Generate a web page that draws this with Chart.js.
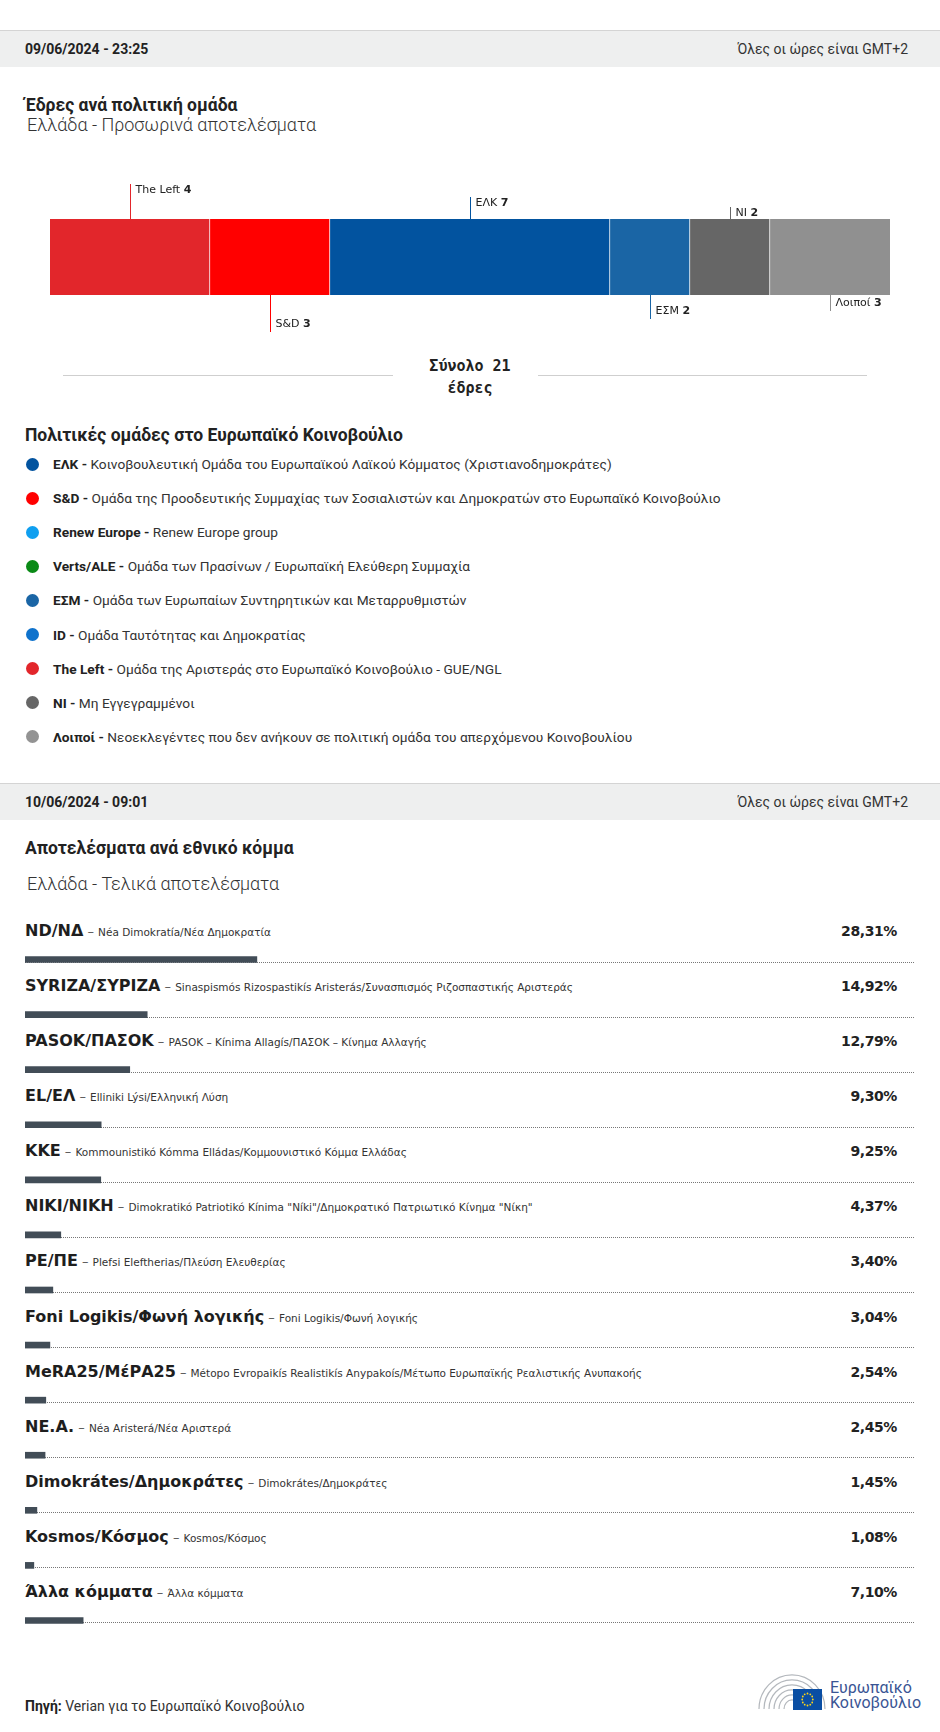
<!DOCTYPE html>
<html>
<head>
<meta charset="UTF-8">
<title>Ευρωεκλογές 2024 - Ελλάδα</title>
<script src="https://cdn.jsdelivr.net/npm/chart.js"></script>
<style>
  body { margin:0; background:#fff; font-family:Roboto, "Noto Sans", sans-serif; color:#222; }
  #page { position:relative; width:940px; height:1732px; overflow:hidden; }
  .abs { position:absolute; white-space:nowrap; }
  .band { position:absolute; left:0; width:940px; height:36px; background:#eeefef; border-top:1px solid #d4d4d4; }
  .band .date { position:absolute; left:25px; top:0; line-height:36px; font-weight:bold; font-size:14px; }
  .band .tz { position:absolute; right:32px; top:0; line-height:36px; font-size:14px; color:#333; }
  .title { font-weight:bold; font-size:17.5px; }
  .subtitle { font-size:18px; font-weight:300; color:#333; }
  .leg { font-size:13.7px; height:20px; line-height:20px; color:#333; }
  .leg b { color:#222; }
  .dot { position:absolute; width:13px; height:13px; border-radius:50%; }
  .total { font-family:"DejaVu Sans Mono", monospace; font-weight:bold; font-size:15px; text-align:center; width:200px; line-height:22px; }
  .rule { position:absolute; height:0; border-top:1.5px solid #cfcfcf; }
  .pname { font-family:"DejaVu Sans", sans-serif; height:22px; line-height:22px; }
  .pname b { font-size:16px; color:#1e1e1e; }
  .pname .dash { font-size:13px; color:#555; }
  .pname .desc { font-size:10.5px; color:#333; }
  .pval { font-family:"DejaVu Sans", sans-serif; font-weight:bold; font-size:14px; letter-spacing:-0.4px; height:22px; line-height:22px; text-align:right; width:120px; }
</style>
</head>
<body>
<div id="page">
  <div class="band" style="top:30px;"><span class="date">09/06/2024 - 23:25</span><span class="tz">Όλες οι ώρες είναι GMT+2</span></div>
  <div class="abs title" style="left:25px; top:95px;">Έδρες ανά πολιτική ομάδα</div>
  <div class="abs subtitle" style="left:27px; top:114px;">Ελλάδα - Προσωρινά αποτελέσματα</div>

  <canvas id="seats" class="abs" width="860" height="175" style="left:40px; top:170px;"></canvas>

  <div class="rule" style="left:63px; width:330px; top:375px;"></div>
  <div class="rule" style="left:538px; width:329px; top:375px;"></div>
  <div class="abs total" id="total" style="left:370px; top:355px;"></div>

  <div class="abs title" style="left:25px; top:425px;">Πολιτικές ομάδες στο Ευρωπαϊκό Κοινοβούλιο</div>
  <div id="legend"></div>

  <div class="band" style="top:783px;"><span class="date">10/06/2024 - 09:01</span><span class="tz">Όλες οι ώρες είναι GMT+2</span></div>
  <div class="abs title" style="left:25px; top:838px;">Αποτελέσματα ανά εθνικό κόμμα</div>
  <div class="abs subtitle" style="left:27px; top:873px;">Ελλάδα - Τελικά αποτελέσματα</div>

  <div id="parties"></div>
  <canvas id="results" class="abs" width="890" height="716" style="left:25px; top:932px;"></canvas>

  <div class="abs" style="left:25px; top:1698px; font-size:14px; color:#333;"><b style="color:#222;">Πηγή:</b> Verian για το Ευρωπαϊκό Κοινοβούλιο</div>

  <svg class="abs" style="left:756px; top:1672px;" width="70" height="42" viewBox="0 0 70 42">
    <g fill="none" stroke="#b4b8bd" stroke-width="1.2">
      <path d="M3 37 A32 33 0 0 1 69 37"/>
      <path d="M8 37 A27 28 0 0 1 64 37"/>
      <path d="M13 37 A22 23 0 0 1 59 37"/>
      <path d="M18 37 A17 18 0 0 1 54 37"/>
      <path d="M23 37 A12 13 0 0 1 49 37"/>
      <path d="M28 37 A7 8 0 0 1 44 37"/>
    </g>
    <rect x="37" y="17" width="29" height="21" fill="#0a4ea3"/>
    <g fill="#ffd617">
      <circle cx="51.5" cy="21.5" r="0.9"/><circle cx="54.3" cy="22.3" r="0.9"/><circle cx="56.2" cy="24.5" r="0.9"/>
      <circle cx="56.8" cy="27.5" r="0.9"/><circle cx="56.2" cy="30.5" r="0.9"/><circle cx="54.3" cy="32.7" r="0.9"/>
      <circle cx="51.5" cy="33.5" r="0.9"/><circle cx="48.7" cy="32.7" r="0.9"/><circle cx="46.8" cy="30.5" r="0.9"/>
      <circle cx="46.2" cy="27.5" r="0.9"/><circle cx="46.8" cy="24.5" r="0.9"/><circle cx="48.7" cy="22.3" r="0.9"/>
    </g>
  </svg>
  <div class="abs" style="left:830px; top:1680px; font-size:16px; line-height:15px; color:#3a5594;">Ευρωπαϊκό<br>Κοινοβούλιο</div>
</div>

<script>
// έδρες ανά πολιτική ομάδα
var seatGroups = ['The Left', 'S&D', 'ΕΛΚ', 'ΕΣΜ', 'NI', 'Λοιποί'];
var seatCounts = [4, 3, 7, 2, 2, 3];

// λεζάντα πολιτικών ομάδων
var legendCodes = ['ΕΛΚ', 'S&D', 'Renew Europe', 'Verts/ALE', 'ΕΣΜ', 'ID', 'The Left', 'NI', 'Λοιποί'];
var legendTexts = [
  'Κοινοβουλευτική Ομάδα του Ευρωπαϊκού Λαϊκού Κόμματος (Χριστιανοδημοκράτες)',
  'Ομάδα της Προοδευτικής Συμμαχίας των Σοσιαλιστών και Δημοκρατών στο Ευρωπαϊκό Κοινοβούλιο',
  'Renew Europe group',
  'Ομάδα των Πρασίνων / Ευρωπαϊκή Ελεύθερη Συμμαχία',
  'Ομάδα των Ευρωπαίων Συντηρητικών και Μεταρρυθμιστών',
  'Ομάδα Ταυτότητας και Δημοκρατίας',
  'Ομάδα της Αριστεράς στο Ευρωπαϊκό Κοινοβούλιο - GUE/NGL',
  'Μη Εγγεγραμμένοι',
  'Νεοεκλεγέντες που δεν ανήκουν σε πολιτική ομάδα του απερχόμενου Κοινοβουλίου'
];

// αποτελέσματα ανά εθνικό κόμμα (%)
var partyCodes = ['ND/NΔ', 'SYRIZA/ΣΥΡΙΖΑ', 'PASOK/ΠΑΣΟΚ', 'EL/ΕΛ', 'KKE', 'NIKI/NIKH', 'PE/ΠΕ',
  'Foni Logikis/Φωνή λογικής', 'MeRA25/MέΡΑ25', 'NE.A.', 'Dimokrátes/Δημοκράτες', 'Kosmos/Κόσμος', 'Άλλα κόμματα'];
var partyNames = ['Néa Dimokratía/Νέα Δημοκρατία',
  'Sinaspismós Rizospastikís Aristerás/Συνασπισμός Ριζοσπαστικής Αριστεράς',
  'PASOK – Kínima Allagís/ΠΑΣΟΚ – Κίνημα Αλλαγής',
  'Elliniki Lýsi/Ελληνική Λύση',
  'Kommounistikó Kómma Elládas/Κομμουνιστικό Κόμμα Ελλάδας',
  'Dimokratikó Patriotikó Kínima "Níki"/Δημοκρατικό Πατριωτικό Κίνημα "Νίκη"',
  'Plefsi Eleftherias/Πλεύση Ελευθερίας',
  'Foni Logikis/Φωνή λογικής',
  'Métopo Evropaikís Realistikís Anypakoís/Μέτωπο Ευρωπαϊκής Ρεαλιστικής Ανυπακοής',
  'Néa Aristerá/Νέα Αριστερά',
  'Dimokrátes/Δημοκράτες',
  'Kosmos/Κόσμος',
  'Άλλα κόμματα'];
var partyShares = [28.31, 14.92, 12.79, 9.30, 9.25, 4.37, 3.40, 3.04, 2.54, 2.45, 1.45, 1.08, 7.10];

// χρώματα / θέσεις ετικετών (στυλ)
var seatColors = ['#e2262b', '#ff0000', '#02539f', '#1a65a5', '#666666', '#909090'];
var legendColors = ['#02539f', '#ff0000', '#0f9ff0', '#0a8a16', '#1a65a5', '#0f72cc', '#e2262b', '#666666', '#939393'];
var leaderSide = [-1, 1, -1, 1, -1, 1];
var leaderLen = [35, 37, 22, 24, 12, 16];

var total = seatCounts.reduce(function(a, b) { return a + b; }, 0);
document.getElementById('total').innerHTML = 'Σύνολο ' + total + '<br>έδρες';

// legend
var legHtml = '';
for (var i = 0; i < legendCodes.length; i++) {
  var cy = 464 + i * 34.1;
  legHtml += '<div class="dot" style="left:26px; top:' + (cy - 6.5) + 'px; background:' + legendColors[i] + ';"></div>';
  legHtml += '<div class="abs leg" style="left:53px; top:' + (cy - 10) + 'px;"><b>' + legendCodes[i] + ' -</b> ' + legendTexts[i] + '</div>';
}
document.getElementById('legend').innerHTML = legHtml;

// party labels
var pHtml = '';
for (var j = 0; j < partyCodes.length; j++) {
  var py = 931 + j * 55.08;
  pHtml += '<div class="abs pname" style="left:25px; top:' + (py - 11) + 'px;"><b>' + partyCodes[j] + '</b><span class="dash"> – </span><span class="desc">' + partyNames[j] + '</span></div>';
  pHtml += '<div class="abs pval" style="left:777px; top:' + (py - 11) + 'px;">' + partyShares[j].toFixed(2).replace('.', ',') + '%</div>';
}
document.getElementById('parties').innerHTML = pHtml;

var leaderPlugin = {
  id: 'leaders',
  afterDatasetsDraw: function(chart) {
    var ctx = chart.ctx;
    var area = chart.chartArea;
    ctx.save();
    chart.data.datasets.forEach(function(ds, i) {
      var el = chart.getDatasetMeta(i).data[0];
      var x = Math.round((el.x + el.base) / 2) + 0.5;
      var y0, y1, ty;
      if (leaderSide[i] < 0) {
        y0 = area.top; y1 = area.top - leaderLen[i]; ty = y1 + 6;
      } else {
        y0 = area.bottom; y1 = area.bottom + leaderLen[i]; ty = y1 - 8;
      }
      ctx.strokeStyle = seatColors[i];
      ctx.lineWidth = 1;
      ctx.beginPath(); ctx.moveTo(x, y0); ctx.lineTo(x, y1); ctx.stroke();
      ctx.textBaseline = 'middle';
      ctx.fillStyle = '#222';
      ctx.font = '11px "DejaVu Sans"';
      var name = ds.label + ' ';
      ctx.fillText(name, x + 5, ty);
      var w = ctx.measureText(name).width;
      ctx.font = 'bold 11px "DejaVu Sans"';
      ctx.fillText(String(ds.data[0]), x + 5 + w, ty);
    });
    ctx.restore();
  }
};

new Chart(document.getElementById('seats'), {
  type: 'bar',
  data: {
    labels: ['Ελλάδα'],
    datasets: seatGroups.map(function(g, i) {
      return {
        label: g,
        data: [seatCounts[i]],
        backgroundColor: seatColors[i],
        borderColor: '#ffffff',
        borderWidth: { top: 0, bottom: 0, left: 0, right: i < seatGroups.length - 1 ? 1 : 0 },
        borderSkipped: false,
        barPercentage: 1,
        categoryPercentage: 1
      };
    })
  },
  options: {
    indexAxis: 'y',
    responsive: false,
    animation: false,
    layout: { padding: { left: 10, right: 10, top: 49, bottom: 50 } },
    scales: {
      x: { stacked: true, display: false, min: 0, max: total },
      y: { stacked: true, display: false }
    },
    plugins: { legend: { display: false }, tooltip: { enabled: false } }
  },
  plugins: [leaderPlugin]
});

var dottedPlugin = {
  id: 'dotted',
  beforeDatasetsDraw: function(chart) {
    var ctx = chart.ctx;
    ctx.save();
    ctx.strokeStyle = '#777';
    ctx.lineWidth = 1;
    ctx.setLineDash([1, 1]);
    chart.getDatasetMeta(0).data.forEach(function(el) {
      var y = Math.round(el.y + el.height / 2) - 0.5;
      ctx.beginPath();
      ctx.moveTo(chart.chartArea.left, y);
      ctx.lineTo(chart.width, y);
      ctx.stroke();
    });
    ctx.restore();
  }
};

new Chart(document.getElementById('results'), {
  type: 'bar',
  data: {
    labels: partyCodes,
    datasets: [{
      data: partyShares,
      backgroundColor: '#424d57',
      barThickness: 6
    }]
  },
  options: {
    indexAxis: 'y',
    responsive: false,
    animation: false,
    layout: { padding: { left: 0, right: 71, top: 0, bottom: 0 } },
    scales: {
      x: { display: false, min: 0, max: 100 },
      y: { display: false }
    },
    plugins: { legend: { display: false }, tooltip: { enabled: false } }
  },
  plugins: [dottedPlugin]
});
</script>
</body>
</html>
